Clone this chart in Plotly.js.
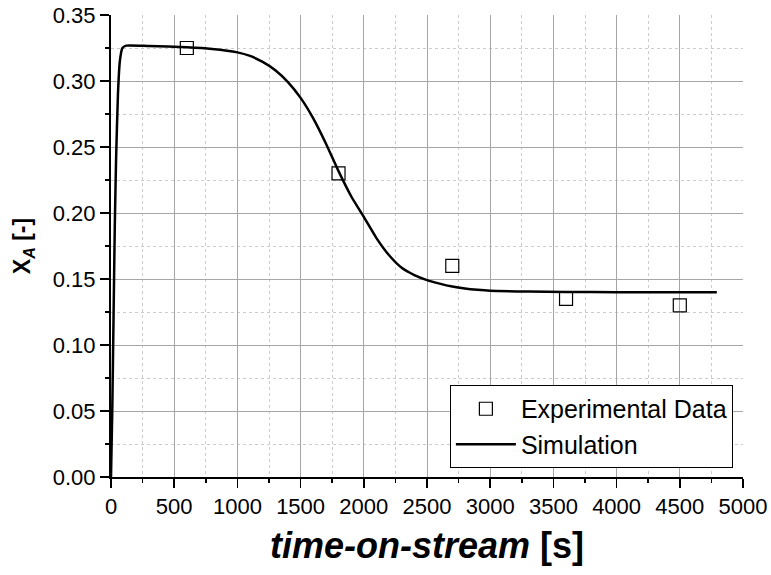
<!DOCTYPE html>
<html>
<head>
<meta charset="utf-8">
<script src="https://cdn.plot.ly/plotly-3.0.1.min.js"></script>
<style>html,body{margin:0;padding:0;background:#fff;}#chart{width:771px;height:575px;}</style>
</head>
<body>
<div id="chart"></div>
<script>
// Experimental data
var expTime = [600, 1800, 2700, 3600, 4500];
var expXA = [0.325, 0.230, 0.160, 0.135, 0.130];

// Simulation curve
var simTime = [0, 10, 20, 30, 40, 55, 70, 90, 120, 300, 600, 800, 1000, 1100, 1200, 1300, 1400, 1500, 1600, 1700, 1800, 1900, 2000, 2100, 2200, 2300, 2400, 2500, 2600, 2700, 2800, 2900, 3000, 3300, 3600, 4000, 4400, 4793];
var simXA = [0, 0.05, 0.12, 0.19, 0.24, 0.29, 0.315, 0.325, 0.3268, 0.3265, 0.3256, 0.3243, 0.3217, 0.3190, 0.3145, 0.3082, 0.2992, 0.2872, 0.2717, 0.2527, 0.2317, 0.2127, 0.1970, 0.1810, 0.1680, 0.1585, 0.1530, 0.1492, 0.1465, 0.1443, 0.1428, 0.1418, 0.1411, 0.1405, 0.1402, 0.1400, 0.1400, 0.1400];

var font = 'Arial, Liberation Sans, sans-serif';

var traces = [
  {
    x: expTime, y: expXA, type: 'scatter', mode: 'markers', name: 'Experimental Data',
    marker: {symbol: 'square-open', size: 13, color: '#000', line: {width: 1.2, color: '#000'}}
  },
  {
    x: simTime, y: simXA, type: 'scatter', mode: 'lines', name: 'Simulation',
    line: {color: '#000', width: 2.5, shape: 'spline', smoothing: 0.5}
  }
];

var layout = {
  width: 771, height: 575,
  margin: {l: 111, r: 28, t: 15, b: 98},
  paper_bgcolor: '#fff', plot_bgcolor: '#fff',
  font: {family: font, size: 22, color: '#000'},
  showlegend: true,
  legend: {
    x: 0.984, xanchor: 'right', y: 0.0195, yanchor: 'bottom',
    bgcolor: '#fff', bordercolor: '#000', borderwidth: 1,
    font: {family: font, size: 25, color: '#000'},
    itemwidth: 60, tracegroupgap: 0
  },
  xaxis: {
    range: [0, 5000], dtick: 500, tick0: 0,
    showline: true, linecolor: '#000', linewidth: 2,
    ticks: 'outside', ticklen: 9, tickwidth: 1.5, tickcolor: '#000',
    showgrid: true, gridcolor: '#a6a6a6', gridwidth: 1,
    zeroline: false,
    minor: {dtick: 250, ticks: 'outside', ticklen: 4, tickwidth: 1.5, tickcolor: '#000',
            showgrid: true, gridcolor: '#cccccc', griddash: 'dot', gridwidth: 1},
    tickfont: {family: font, size: 22, color: '#000'},
    title: {text: '<b><i>time-on-stream</i></b><b> [s]</b>', font: {family: font, size: 36, color: '#000', weight: 700}, standoff: 14},
    layer: 'above traces'
  },
  yaxis: {
    range: [0, 0.35], dtick: 0.05, tick0: 0, tickformat: '.2f',
    showline: true, linecolor: '#000', linewidth: 2,
    ticks: 'outside', ticklen: 9, tickwidth: 1.5, tickcolor: '#000',
    showgrid: true, gridcolor: '#a6a6a6', gridwidth: 1,
    zeroline: false,
    minor: {dtick: 0.025, ticks: 'outside', ticklen: 4, tickwidth: 1.5, tickcolor: '#000',
            showgrid: true, gridcolor: '#cccccc', griddash: 'dot', gridwidth: 1},
    tickfont: {family: font, size: 22, color: '#000'},
    title: {text: '<b>X</b><sub><b><i>A</i></b></sub><b> [-]</b>', font: {family: font, size: 23, color: '#000', weight: 700}, standoff: 16},
    layer: 'above traces'
  },
  xaxis2: {
    overlaying: 'x', side: 'top', anchor: 'y', matches: 'x', range: [0, 5000], dtick: 500, tick0: 0,
    showline: true, linecolor: '#000', linewidth: 2,
    ticks: 'inside', ticklen: 8, tickwidth: 1.5, tickcolor: '#000',
    showticklabels: false, showgrid: false, zeroline: false,
    minor: {dtick: 250, ticks: 'inside', ticklen: 4, tickwidth: 1.5, tickcolor: '#000', showgrid: false}
  },
  yaxis2: {
    overlaying: 'y', side: 'right', anchor: 'x', range: [0, 0.35], dtick: 0.05, tick0: 0,
    showline: true, linecolor: '#000', linewidth: 2,
    ticks: 'inside', ticklen: 8, tickwidth: 1.5, tickcolor: '#000',
    showticklabels: false, showgrid: false, zeroline: false,
    minor: {dtick: 0.025, ticks: 'inside', ticklen: 4, tickwidth: 1.5, tickcolor: '#000', showgrid: false}
  }
};

Plotly.newPlot('chart', traces, layout, {displayModeBar: false, staticPlot: true});
</script>
</body>
</html>
